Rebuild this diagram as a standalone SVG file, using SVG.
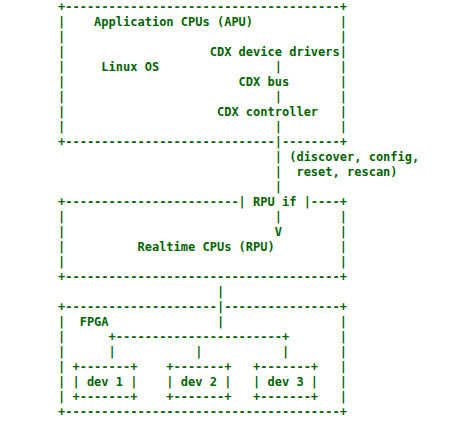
<svg xmlns="http://www.w3.org/2000/svg" width="459" height="426" viewBox="0 0 459 426">
<style>
text{font-family:"DejaVu Sans Mono","Liberation Mono",monospace;font-size:12px;font-weight:bold;fill:#006400;white-space:pre}
</style>
<rect width="459" height="426" fill="#ffffff"/>
<g id="apu">
<text x="58" y="11" xml:space="preserve">+--------------------------------------+</text>
<text x="58" y="26" xml:space="preserve">|    Application CPUs (APU)            |</text>
<text x="58" y="41" xml:space="preserve">|                                      |</text>
<text x="58" y="56" xml:space="preserve">|                    CDX device drivers|</text>
<text x="58" y="71" xml:space="preserve">|     Linux OS                |        |</text>
<text x="58" y="86" xml:space="preserve">|                        CDX bus       |</text>
<text x="58" y="101" xml:space="preserve">|                             |        |</text>
<text x="58" y="116" xml:space="preserve">|                     CDX controller   |</text>
<text x="58" y="131" xml:space="preserve">|                             |        |</text>
<text x="58" y="146" xml:space="preserve">+-----------------------------|--------+</text>
</g>
<g id="connectors">
<text x="58" y="161" xml:space="preserve">                              | (discover, config,</text>
<text x="58" y="176" xml:space="preserve">                              |  reset, rescan)</text>
<text x="58" y="191" xml:space="preserve">                              |</text>
<text x="58" y="296" xml:space="preserve">                      |</text>
</g>
<g id="rpu">
<text x="58" y="206" xml:space="preserve">+------------------------| RPU if |----+</text>
<text x="58" y="221" xml:space="preserve">|                             |        |</text>
<text x="58" y="236" xml:space="preserve">|                             V        |</text>
<text x="58" y="251" xml:space="preserve">|          Realtime CPUs (RPU)         |</text>
<text x="58" y="266" xml:space="preserve">|                                      |</text>
<text x="58" y="281" xml:space="preserve">+--------------------------------------+</text>
</g>
<g id="fpga">
<text x="58" y="311" xml:space="preserve">+---------------------|----------------+</text>
<text x="58" y="326" xml:space="preserve">|  FPGA               |                |</text>
<text x="58" y="341" xml:space="preserve">|      +-----------------------+       |</text>
<text x="58" y="356" xml:space="preserve">|      |           |           |       |</text>
<text x="58" y="371" xml:space="preserve">| +-------+    +-------+   +-------+   |</text>
<text x="58" y="386" xml:space="preserve">| | dev 1 |    | dev 2 |   | dev 3 |   |</text>
<text x="58" y="401" xml:space="preserve">| +-------+    +-------+   +-------+   |</text>
<text x="58" y="416" xml:space="preserve">+--------------------------------------+</text>
</g>
</svg>
